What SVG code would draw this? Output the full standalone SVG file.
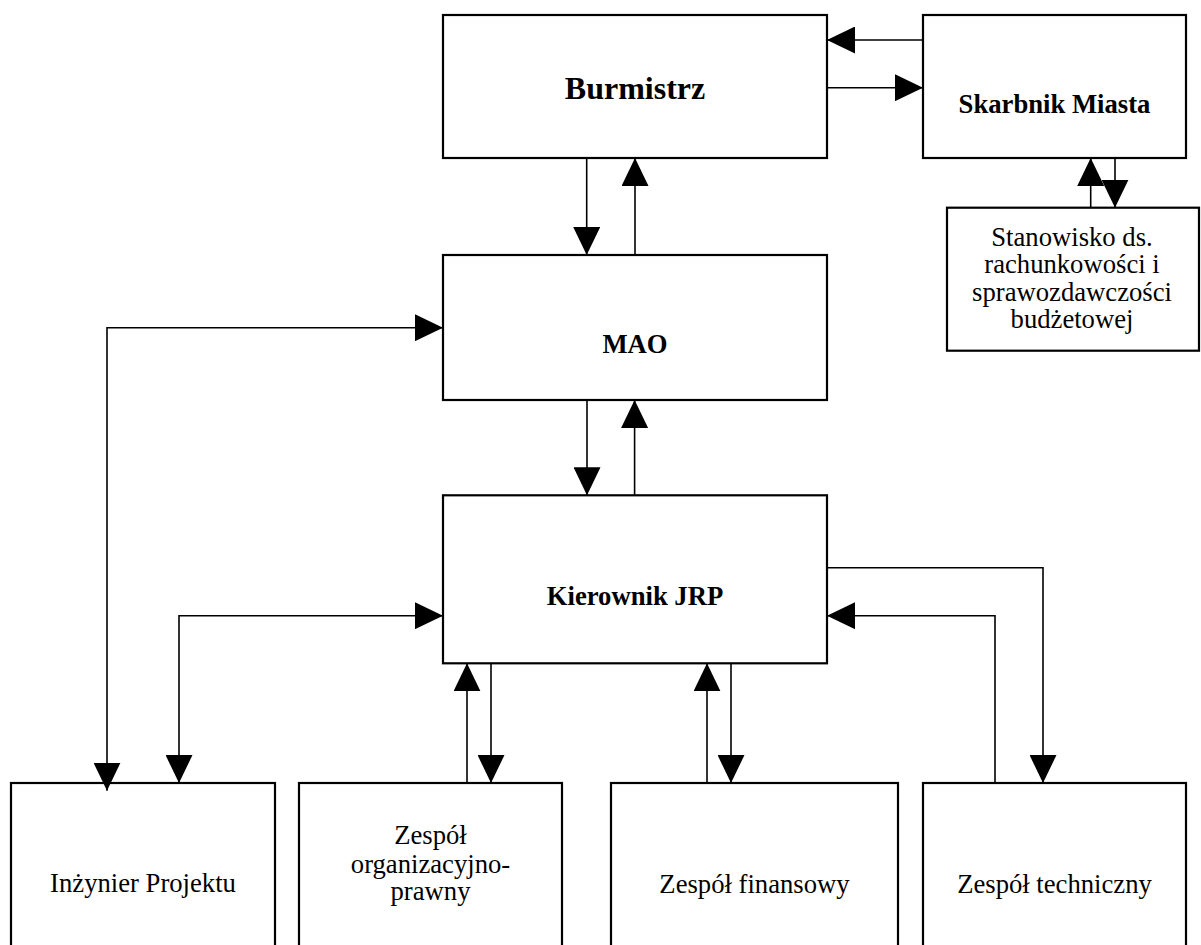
<svg xmlns="http://www.w3.org/2000/svg" width="1201" height="945" viewBox="0 0 1201 945">
<style>
.box{fill:#fff;stroke:#000;stroke-width:2.2}
.t{font-family:"Liberation Serif","Times New Roman",serif;font-size:26.67px;fill:#000;text-anchor:middle}
.b{font-weight:bold}
.c{fill:none;stroke:#000;stroke-width:1.6}
.a{marker-end:url(#ah)}
.aa{marker-start:url(#ah);marker-end:url(#ah)}
</style>
<defs>
<marker id="ah" markerUnits="userSpaceOnUse" markerWidth="28" markerHeight="27" refX="28" refY="13.5" orient="auto-start-reverse">
<path d="M0,0 L28,13.5 L0,27 z" fill="#000"/>
</marker>
</defs>
<rect width="1201" height="945" fill="#fff"/>
<g id="burmistrz"><rect class="box" x="443" y="15" width="384" height="143"/><text class="t b" x="635" y="99" style="font-size:32px">Burmistrz</text></g>
<g id="skarbnik"><rect class="box" x="923" y="15" width="263" height="143"/><text class="t b" x="1054.5" y="112.7">Skarbnik Miasta</text></g>
<g id="stanowisko"><rect class="box" x="947" y="207.7" width="252" height="143"/>
<text class="t" x="1072" y="245.5">Stanowisko ds.</text>
<text class="t" x="1072" y="273">rachunkowości i</text>
<text class="t" x="1072" y="300.5">sprawozdawczości</text>
<text class="t" x="1072" y="328">budżetowej</text></g>
<g id="mao"><rect class="box" x="443" y="255" width="384" height="145"/><text class="t b" x="635" y="352.7">MAO</text></g>
<g id="kierownik"><rect class="box" x="443" y="495.3" width="384" height="168"/><text class="t b" x="635" y="605">Kierownik JRP</text></g>
<g id="inzynier"><rect class="box" x="11" y="783" width="264" height="180"/><text class="t" x="143" y="892.3">Inżynier Projektu</text></g>
<g id="organizacyjny"><rect class="box" x="299" y="783" width="263" height="180"/>
<text class="t" x="430.5" y="844">Zespół</text>
<text class="t" x="430.5" y="872.5">organizacyjno-</text>
<text class="t" x="430.5" y="900">prawny</text></g>
<g id="finansowy"><rect class="box" x="611" y="783" width="287" height="180"/><text class="t" x="754.5" y="893">Zespół finansowy</text></g>
<g id="techniczny"><rect class="box" x="923" y="783" width="263" height="180"/><text class="t" x="1054.5" y="893">Zespół techniczny</text></g>
<g id="connectors">
<path class="c a" d="M923,40 L827,40"/>
<path class="c a" d="M827,87.7 L923,87.7"/>
<path class="c a" d="M586.7,158 L586.7,255"/>
<path class="c a" d="M635,255 L635,158"/>
<path class="c a" d="M1115,158 L1115,207.7"/>
<path class="c a" d="M1090.7,207.7 L1090.7,158"/>
<path class="c aa" d="M107,790.7 L107,327.7 L443,327.7"/>
<path class="c a" d="M587,400 L587,495.3"/>
<path class="c a" d="M634.6,495.3 L634.6,400"/>
<path class="c aa" d="M179,783 L179,615.7 L443,615.7"/>
<path class="c a" d="M467,783 L467,663.3"/>
<path class="c a" d="M491,663.3 L491,783"/>
<path class="c a" d="M707,783 L707,663.3"/>
<path class="c a" d="M731,663.3 L731,783"/>
<path class="c a" d="M827,567.7 L1043,567.7 L1043,783"/>
<path class="c a" d="M995,783 L995,615.7 L827,615.7"/>
</g>
</svg>
